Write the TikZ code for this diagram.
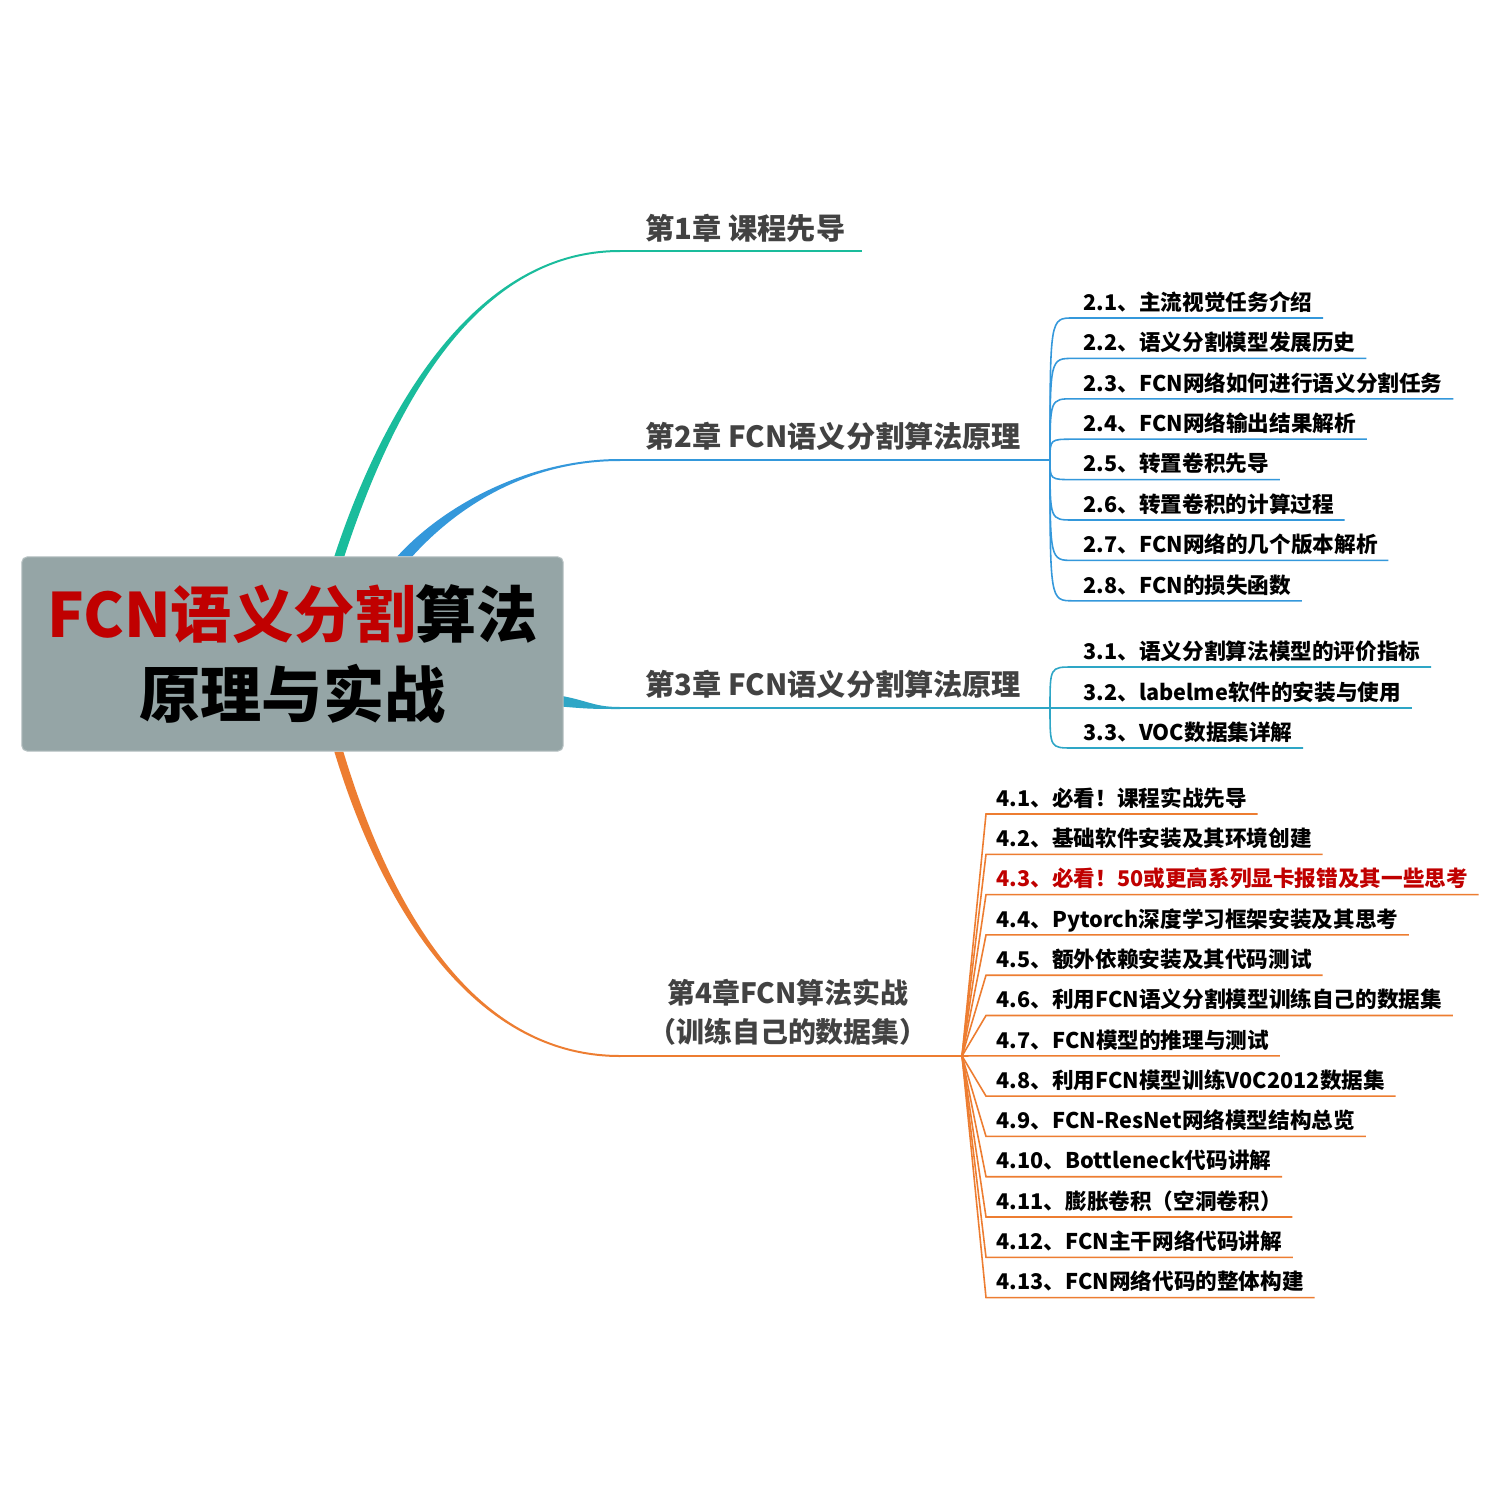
\documentclass[tikz,border=0pt]{standalone}
\usepackage{fontspec}
\setmainfont{Noto Sans CJK SC}
\usepackage{xcolor}
\usetikzlibrary{calc,backgrounds}

\definecolor{boxgray}{HTML}{95A5A6}
\definecolor{fcnred}{HTML}{C00000}
\definecolor{labelgray}{HTML}{424242}
\definecolor{ch1green}{HTML}{1ABC9C}
\definecolor{ch2blue}{HTML}{3498DB}
\definecolor{ch3teal}{HTML}{2EA6C6}
\definecolor{ch4orange}{HTML}{ED7D31}

\begin{document}
\begin{tikzpicture}[
  x=0.01cm, y=-0.01cm,
  rootbox/.style={
    rectangle,
    rounded corners=1.5pt,
    fill=boxgray,
    draw=boxgray!70!white,
    line width=0.3pt,
    minimum width=5.41cm,
    minimum height=1.94cm,
    align=center,
    font=\bfseries\fontsize{17.4}{23}\selectfont
  },
  chaplabel/.style={anchor=base west, inner sep=0pt, text=labelgray, font=\bfseries\fontsize{8.3}{10}\selectfont},
  leaf/.style={anchor=south west, inner xsep=0.1cm, inner ysep=2pt, text depth=0pt, font=\bfseries\fontsize{6.15}{7}\selectfont},
  twig/.style={line width=0.45pt}
]

\useasboundingbox (0,0) rectangle (1500,1500);

\node[rootbox] (root) at (292.5,654) {\textcolor{fcnred}{FCN语义分割}算法\\原理与实战};

\coordinate (b1) at (620,251);
\coordinate (b1end) at (862,251);
\coordinate (b2) at (620,460);
\coordinate (h2) at (1050,460);
\coordinate (b3) at (620,708);
\coordinate (h3) at (1050,708);
\coordinate (b4) at (620,1056);
\coordinate (h4) at (962,1056);

% main branches, tapered, behind the box
\begin{scope}[on background layer]
\fill[white] (0,0) rectangle (1500,1500);
\fill[ch1green] ($(root.north west)+(313,0)$) .. controls +(45,-137) and +(-150,0) .. ($(b1)+(0,-1)$)
  -- ($(b1)+(0,1)$) .. controls +(-150,0) and +(45,-137) .. ($(root.north west)+(323,0)$) -- cycle;
\fill[ch2blue] ($(root.north west)+(376,0)$) .. controls +(47,-52) and +(-90,0) .. ($(b2)+(0,-1)$)
  -- ($(b2)+(0,1)$) .. controls +(-90,0) and +(47,-52) .. ($(root.north west)+(391,0)$) -- cycle;
\fill[ch3teal] ($(root.east)+(-20,39)$) .. controls +(45,6) and +(-30,0) .. ($(b3)+(0,-1)$)
  -- ($(b3)+(0,1)$) .. controls +(-30,0) and +(45,4) .. ($(root.east)+(-20,51)$) -- cycle;
\fill[ch4orange] ($(root.south west)+(313,0)$) .. controls +(45,149) and +(-150,0) .. ($(b4)+(0,1)$)
  -- ($(b4)+(0,-1)$) .. controls +(-150,0) and +(45,149) .. ($(root.south west)+(322,0)$) -- cycle;
\end{scope}

\draw[twig, ch1green] (b1) -- (b1end);
\draw[twig, ch2blue] (b2) -- (h2);
\draw[twig, ch3teal] (b3) -- (h3);
\draw[twig, ch4orange] (b4) -- (h4);

\node[chaplabel] (ch1) at (645,239) {第1章 课程先导};
\node[chaplabel] (ch2) at (645,447) {第2章 FCN语义分割算法原理};
\node[chaplabel] (ch3) at (645,695) {第3章 FCN语义分割算法原理};
\node[chaplabel, anchor=center, align=center, font=\bfseries\fontsize{7.95}{11}\selectfont] (ch4) at (788,1012) {第4章FCN算法实战\\（训练自己的数据集）};

% chapter 2
\node[leaf] (c21) at (1073,318) {2.1、主流视觉任务介绍};
\node[leaf] (c22) at (1073,358.4) {2.2、语义分割模型发展历史};
\node[leaf] (c23) at (1073,398.8) {2.3、FCN网络如何进行语义分割任务};
\node[leaf] (c24) at (1073,439.2) {2.4、FCN网络输出结果解析};
\node[leaf] (c25) at (1073,479.6) {2.5、转置卷积先导};
\node[leaf] (c26) at (1073,520) {2.6、转置卷积的计算过程};
\node[leaf] (c27) at (1073,560.4) {2.7、FCN网络的几个版本解析};
\node[leaf] (c28) at (1073,600.8) {2.8、FCN的损失函数};

\draw[twig, ch2blue] (h2) .. controls (h2 |- c21.south west) .. (c21.south west) -- (c21.south east);
\draw[twig, ch2blue] (h2) .. controls (h2 |- c22.south west) .. (c22.south west) -- (c22.south east);
\draw[twig, ch2blue] (h2) .. controls (h2 |- c23.south west) .. (c23.south west) -- (c23.south east);
\draw[twig, ch2blue] (h2) .. controls (h2 |- c24.south west) .. (c24.south west) -- (c24.south east);
\draw[twig, ch2blue] (h2) .. controls (h2 |- c25.south west) .. (c25.south west) -- (c25.south east);
\draw[twig, ch2blue] (h2) .. controls (h2 |- c26.south west) .. (c26.south west) -- (c26.south east);
\draw[twig, ch2blue] (h2) .. controls (h2 |- c27.south west) .. (c27.south west) -- (c27.south east);
\draw[twig, ch2blue] (h2) .. controls (h2 |- c28.south west) .. (c28.south west) -- (c28.south east);

% chapter 3
\node[leaf] (c31) at (1073,667) {3.1、语义分割算法模型的评价指标};
\node[leaf] (c32) at (1073,708) {3.2、labelme软件的安装与使用};
\node[leaf] (c33) at (1073,748) {3.3、VOC数据集详解};

\draw[twig, ch3teal] (h3) .. controls (h3 |- c31.south west) .. (c31.south west) -- (c31.south east);
\draw[twig, ch3teal] (h3) -- (c32.south west) -- (c32.south east);
\draw[twig, ch3teal] (h3) .. controls (h3 |- c33.south west) .. (c33.south west) -- (c33.south east);

% chapter 4
\node[leaf] (c41) at (986,814) {4.1、必看！课程实战先导};
\node[leaf] (c42) at (986,854.3) {4.2、基础软件安装及其环境创建};
\node[leaf, text=fcnred] (c43) at (986,894.6) {4.3、必看！50或更高系列显卡报错及其一些思考};
\node[leaf] (c44) at (986,934.9) {4.4、Pytorch深度学习框架安装及其思考};
\node[leaf] (c45) at (986,975.2) {4.5、额外依赖安装及其代码测试};
\node[leaf] (c46) at (986,1015.5) {4.6、利用FCN语义分割模型训练自己的数据集};
\node[leaf] (c47) at (986,1055.8) {4.7、FCN模型的推理与测试};
\node[leaf] (c48) at (986,1096.1) {4.8、利用FCN模型训练V0C2012数据集};
\node[leaf] (c49) at (986,1136.4) {4.9、FCN-ResNet网络模型结构总览};
\node[leaf] (c410) at (986,1176.7) {4.10、Bottleneck代码讲解};
\node[leaf] (c411) at (986,1217) {4.11、膨胀卷积（空洞卷积）};
\node[leaf] (c412) at (986,1257.3) {4.12、FCN主干网络代码讲解};
\node[leaf] (c413) at (986,1297.6) {4.13、FCN网络代码的整体构建};

\draw[twig, ch4orange] (h4) -- (c41.south west) -- (c41.south east);
\draw[twig, ch4orange] (h4) -- (c42.south west) -- (c42.south east);
\draw[twig, ch4orange] (h4) -- (c43.south west) -- (c43.south east);
\draw[twig, ch4orange] (h4) -- (c44.south west) -- (c44.south east);
\draw[twig, ch4orange] (h4) -- (c45.south west) -- (c45.south east);
\draw[twig, ch4orange] (h4) -- (c46.south west) -- (c46.south east);
\draw[twig, ch4orange] (h4) -- (c47.south west) -- (c47.south east);
\draw[twig, ch4orange] (h4) -- (c48.south west) -- (c48.south east);
\draw[twig, ch4orange] (h4) -- (c49.south west) -- (c49.south east);
\draw[twig, ch4orange] (h4) -- (c410.south west) -- (c410.south east);
\draw[twig, ch4orange] (h4) -- (c411.south west) -- (c411.south east);
\draw[twig, ch4orange] (h4) -- (c412.south west) -- (c412.south east);
\draw[twig, ch4orange] (h4) -- (c413.south west) -- (c413.south east);

\end{tikzpicture}
\end{document}
